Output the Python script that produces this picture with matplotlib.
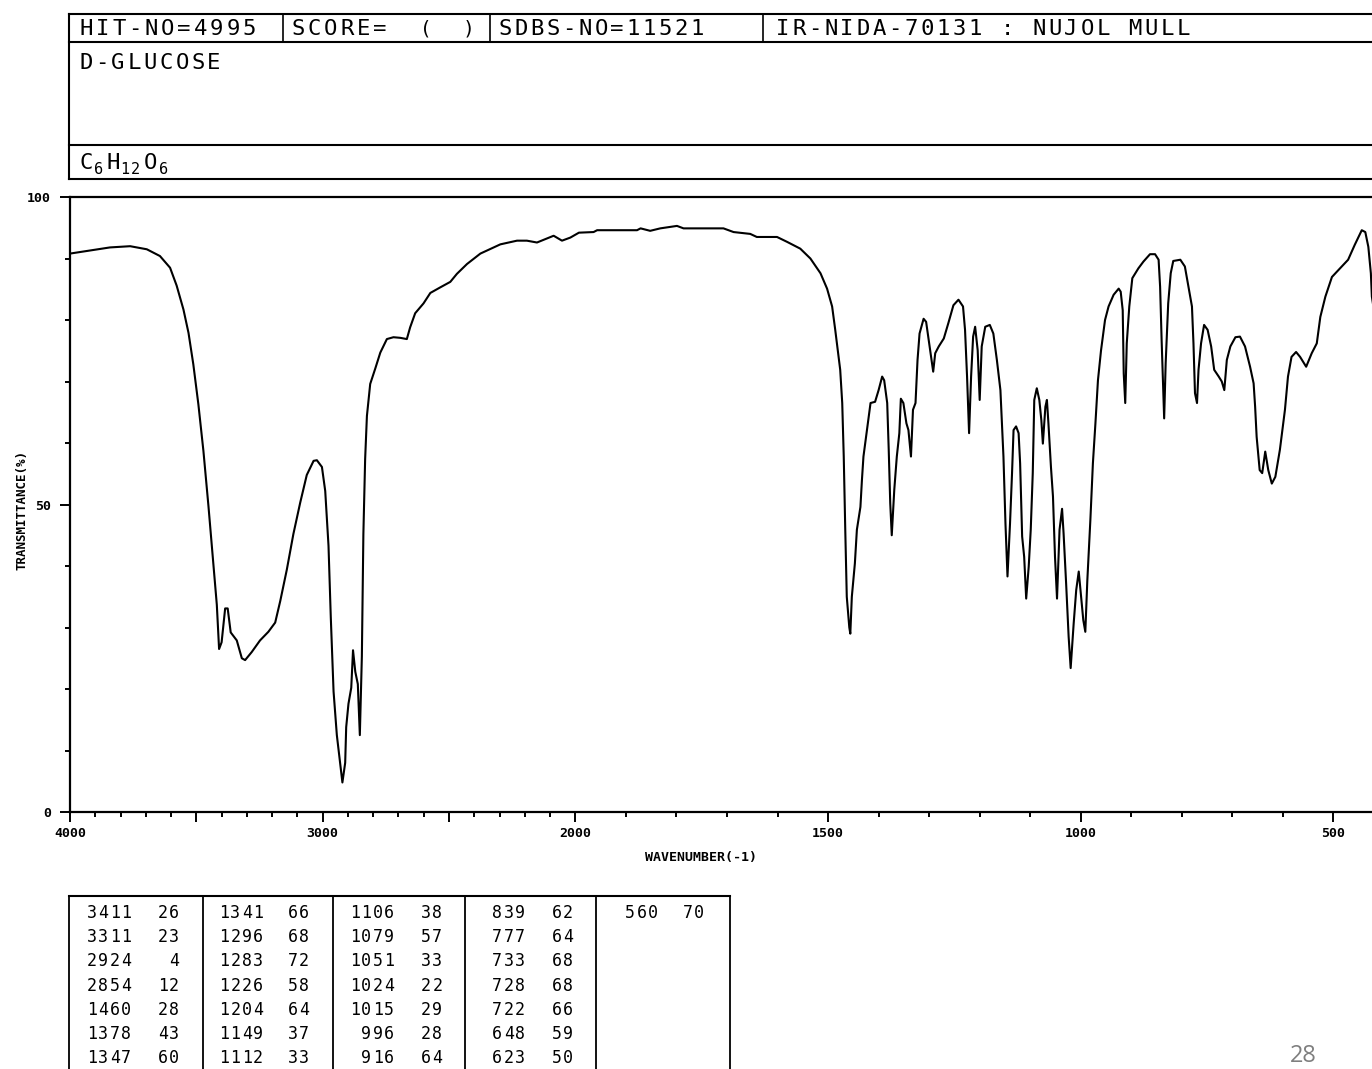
import numpy as np
import matplotlib
matplotlib.use('Agg')
import matplotlib.pyplot as plt
from matplotlib.ticker import FixedLocator, FixedFormatter

W, H = 1372, 1069
MONO = 'DejaVu Sans Mono'

# spectrum (wavenumber cm-1, transmittance %)
wavenumber = [
    4000, 3921, 3842, 3762, 3696, 3644, 3604, 3578, 3551, 3531, 3512, 3492,
    3472, 3452, 3432, 3419, 3410, 3400, 3386, 3376, 3364, 3340, 3320, 3307,
    3281, 3248, 3215, 3188, 3168, 3142, 3116, 3089, 3063, 3036, 3023, 3003,
    2990, 2977, 2968, 2957, 2944, 2931, 2922, 2911, 2907, 2898, 2887, 2880,
    2871, 2861, 2853, 2845, 2839, 2832, 2825, 2812, 2792, 2772, 2746, 2720,
    2693, 2667, 2654, 2634, 2601, 2574, 2535, 2495, 2469, 2429, 2376, 2297,
    2231, 2192, 2152, 2086, 2053, 2020, 1993, 1964, 1957, 1878, 1871, 1852,
    1832, 1799, 1786, 1707, 1687, 1654, 1641, 1601, 1581, 1555, 1535, 1515,
    1502, 1492, 1486, 1480, 1476, 1472, 1469, 1466, 1463, 1458, 1456, 1453,
    1447, 1443, 1436, 1433, 1430, 1423, 1416, 1407, 1400, 1393, 1389, 1383,
    1380, 1377, 1374, 1369, 1364, 1359, 1356, 1351, 1345, 1341, 1336, 1332,
    1327, 1323, 1319, 1311, 1306, 1299, 1292, 1288, 1281, 1271, 1262, 1252,
    1242, 1233, 1229, 1225, 1221, 1217, 1213, 1209, 1204, 1200, 1196, 1189,
    1180, 1173, 1166, 1159, 1153, 1149, 1145, 1140, 1136, 1133, 1128, 1123,
    1120, 1116, 1112, 1108, 1103, 1099, 1095, 1092, 1087, 1082, 1078, 1075,
    1070, 1067, 1064, 1059, 1055, 1051, 1047, 1042, 1037, 1034, 1029, 1024,
    1020, 1014, 1009, 1004, 1000, 995, 991, 987, 981, 976, 971, 966,
    960, 952, 945, 935, 925, 921, 917, 915, 912, 909, 904, 898,
    886, 876, 863, 853, 846, 843, 840, 835, 832, 827, 822, 817,
    803, 794, 787, 780, 777, 774, 770, 767, 762, 756, 749, 742,
    736, 727, 721, 716, 711, 704, 694, 685, 675, 665, 658, 655,
    652, 646, 641, 635, 629, 622, 615, 606, 596, 590, 583, 574,
    566, 554, 543, 533, 526, 516, 503, 487, 471, 458, 444, 437,
    431, 426, 424, 415, 400]
transmittance = [
    90.8, 91.3, 91.8, 92.0, 91.5, 90.4, 88.5, 85.6, 81.7, 77.9, 72.8, 66.3,
    58.7, 49.7, 40.1, 33.7, 26.5, 27.6, 33.1, 33.1, 29.2, 27.9, 25.0, 24.7,
    26.0, 27.9, 29.3, 30.8, 34.3, 39.4, 45.2, 50.3, 54.8, 57.1, 57.2, 56.1,
    52.2, 43.3, 31.7, 19.6, 12.5, 8.0, 4.8, 8.0, 13.8, 17.6, 20.2, 26.3,
    22.8, 20.8, 12.5, 25.3, 45.2, 57.4, 64.4, 69.6, 72.1, 74.7, 76.9, 77.2,
    77.1, 76.9, 78.8, 81.1, 82.7, 84.4, 85.3, 86.2, 87.5, 89.1, 90.8, 92.3,
    92.9, 92.9, 92.6, 93.7, 92.9, 93.4, 94.2, 94.3, 94.6, 94.6, 94.9, 94.5,
    94.9, 95.3, 94.9, 94.9, 94.3, 94.0, 93.5, 93.5, 92.7, 91.6, 90.0, 87.6,
    85.1, 82.2, 78.5, 74.5, 71.9, 66.5, 57.8, 45.9, 35.0, 30.0, 29.0, 35.0,
    40.4, 45.9, 49.6, 54.0, 57.8, 62.1, 66.5, 66.7, 68.6, 70.8, 70.2, 66.5,
    58.9, 50.2, 45.0, 52.4, 57.8, 61.6, 67.2, 66.5, 63.2, 62.1, 57.8, 65.4,
    66.5, 73.5, 77.8, 80.2, 79.7, 75.7, 71.6, 74.6, 75.7, 77.0, 79.5, 82.4,
    83.3, 82.2, 78.4, 70.8, 61.6, 70.8, 77.3, 78.9, 75.1, 67.0, 75.7, 78.9,
    79.2, 77.8, 73.5, 68.6, 57.8, 46.9, 38.3, 46.9, 55.1, 62.1, 62.7, 61.6,
    56.7, 44.8, 41.5, 34.7, 39.9, 45.9, 55.1, 67.0, 68.9, 67.0, 63.7, 59.9,
    65.9, 67.0, 63.2, 56.1, 51.3, 41.5, 34.7, 45.9, 49.3, 45.3, 37.2, 28.5,
    23.4, 30.7, 36.1, 39.1, 35.6, 31.2, 29.3, 37.7, 47.5, 56.7, 63.2, 70.2,
    75.0, 80.0, 82.2, 84.1, 85.1, 84.6, 81.6, 71.3, 66.5, 76.2, 82.2, 86.8,
    88.4, 89.5, 90.7, 90.7, 89.8, 85.4, 76.7, 64.0, 73.0, 82.7, 87.6, 89.6,
    89.8, 88.7, 85.4, 82.2, 76.2, 68.1, 66.5, 71.9, 76.2, 79.2, 78.4, 75.7,
    71.9, 70.8, 70.0, 68.6, 73.5, 75.7, 77.2, 77.3, 75.7, 72.4, 69.7, 65.9,
    61.0, 55.6, 55.1, 58.6, 55.6, 53.4, 54.5, 58.9, 65.4, 70.8, 74.0, 74.8,
    74.0, 72.4, 74.6, 76.2, 80.5, 83.8, 87.0, 88.4, 89.8, 92.2, 94.6, 94.3,
    91.9, 87.6, 83.8, 79.0, 77.0]

# peak table (7 rows per column)
peak_wavenumbers = [3411, 3311, 2924, 2854, 1460, 1378, 1347,
                    1341, 1296, 1283, 1226, 1204, 1149, 1112,
                    1106, 1079, 1051, 1024, 1015, 996, 916,
                    839, 777, 733, 728, 722, 648, 623,
                    560]
peak_values = [26, 23, 4, 12, 28, 43, 60,
               66, 68, 72, 58, 64, 37, 33,
               38, 57, 33, 22, 29, 28, 64,
               62, 64, 68, 68, 66, 59, 50,
               70]

x_major = [4000, 3500, 3000, 2500, 2000, 1500, 1000, 500]
x_major_labels = ['4000', '', '3000', '', '2000', '1500', '1000', '500']
y_major = [0, 50, 100]


def forward(w):
    # 4000-2000 drawn at half the scale of 2000-400
    w = np.asarray(w, dtype=float)
    return np.where(w >= 2000, w / 2 + 1000, w)


def inverse(u):
    u = np.asarray(u, dtype=float)
    return np.where(u >= 2000, (u - 1000) * 2, u)


def mono_text(ax, x0, y, s, pitch, size, **kw):
    """fixed pitch text, one glyph per cell"""
    for i, ch in enumerate(s):
        if ch != ' ':
            ax.text(x0 + pitch * (i + 0.5), y, ch, fontsize=size, family=MONO,
                    ha='center', va='center', **kw)


fig = plt.figure(figsize=(W / 100, H / 100), dpi=100)
fig.patch.set_facecolor('white')

# pixel canvas for the frames and the texts
bg = fig.add_axes([0, 0, 1, 1])
bg.set_xlim(0, W)
bg.set_ylim(H, 0)
bg.axis('off')

lw = 1.5
# header box
bg.plot([69, W + 20], [14, 14], color='black', lw=lw)
bg.plot([69, W + 20], [42, 42], color='black', lw=lw)
bg.plot([69, W + 20], [145, 145], color='black', lw=lw)
bg.plot([69, W + 20], [179, 179], color='black', lw=lw)
bg.plot([69, 69], [14, 179], color='black', lw=lw)
for xd in [283, 490, 763]:
    bg.plot([xd, xd], [14, 42], color='black', lw=1.2)

mono_text(bg, 78, 29, 'HIT-NO=4995', 16.3, 16)
mono_text(bg, 290, 29, 'SCORE=', 16.3, 16)
mono_text(bg, 418, 29, '(', 16.3, 14)
mono_text(bg, 460, 29, ')', 16.3, 14)
mono_text(bg, 497, 29, 'SDBS-NO=11521', 16.0, 16)
mono_text(bg, 775, 29, 'IR-NIDA-70131 : NUJOL MULL', 16.0, 16)
mono_text(bg, 78, 63, 'D-GLUCOSE', 16.0, 16)

# formula with subscripts
mono_text(bg, 78, 163, 'C', 16, 16)
mono_text(bg, 93, 170, '6', 11, 11)
mono_text(bg, 105, 163, 'H', 16, 16)
mono_text(bg, 120, 170, '12', 10, 11)
mono_text(bg, 142, 163, 'O', 16, 16)
mono_text(bg, 158, 170, '6', 11, 11)

# peak table
bg.plot([69, 730], [896, 896], color='black', lw=lw)
for xd in [69, 203, 333, 465, 596, 730]:
    bg.plot([xd, xd], [896, H + 5], color='black', lw=1.3)

wn_right = [132, 264, 395, 526, 659]
val_right = [180, 310, 443, 574, 705]
pitch = 11.5
for k, (wn, val) in enumerate(zip(peak_wavenumbers, peak_values)):
    col, row = divmod(k, 7)
    y = 913 + 24.2 * row
    s1, s2 = str(wn), str(val)
    mono_text(bg, wn_right[col] - pitch * len(s1), y, s1, pitch, 12)
    mono_text(bg, val_right[col] - pitch * len(s2), y, s2, pitch, 12)

# axis titles
bg.text(701, 857, 'WAVENUMBER(-1)', fontsize=9.5, family=MONO,
        fontweight='bold', ha='center', va='center')
bg.text(22, 510, 'TRANSMITTANCE(%)', fontsize=9, family=MONO,
        fontweight='bold', ha='center', va='center', rotation=90)

# page number of the slide
bg.text(1303, 1062, '28', fontsize=17, family='Open Sans', color='#7f7f7f',
        ha='center', va='baseline')

# spectrum
ax = fig.add_axes([70 / W, 1 - 812 / H, (1384 - 70) / W, (812 - 197) / H])
ax.set_xscale('function', functions=(forward, inverse))
ax.plot(wavenumber, transmittance, color='black', lw=1.5)
ax.set_xlim(4000, 400)
ax.set_ylim(0, 100)

ax.xaxis.set_major_locator(FixedLocator(x_major))
ax.xaxis.set_major_formatter(FixedFormatter(x_major_labels))
ax.xaxis.set_minor_locator(FixedLocator([w for w in range(400, 4001, 100) if w % 500 != 0]))
ax.yaxis.set_major_locator(FixedLocator(y_major))
ax.yaxis.set_major_formatter(FixedFormatter(['0', '50', '100']))
ax.yaxis.set_minor_locator(FixedLocator(list(range(10, 100, 10))))

ax.tick_params(axis='both', which='major', direction='out', length=7.5, width=1.4)
ax.tick_params(axis='both', which='minor', direction='out', length=3.5, width=1.4)
ax.tick_params(axis='x', which='major', pad=3)
ax.tick_params(axis='y', which='major', pad=6)
for lab in ax.get_xticklabels() + ax.get_yticklabels():
    lab.set_family(MONO)
    lab.set_fontweight('bold')
    lab.set_fontsize(9.5)

for sp in ax.spines.values():
    sp.set_linewidth(1.6)
ax.patch.set_alpha(0)

fig.savefig('out.png', dpi=100, facecolor='white')
